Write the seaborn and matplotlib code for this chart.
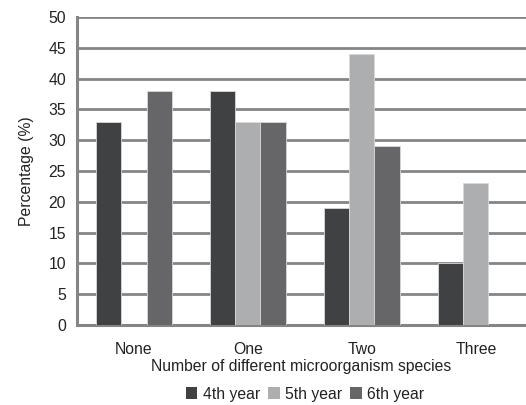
import matplotlib
matplotlib.use("Agg")
import matplotlib.pyplot as plt
import seaborn as sns
import pandas as pd
import numpy as np

categories = ["None", "One", "Two", "Three"]
series_names = ["4th year", "5th year", "6th year"]
vals_4th = [33, 38, 19, 10]
vals_5th = [0, 33, 44, 23]
vals_6th = [38, 33, 29, 0]
colors = ["#404143", "#adaeb0", "#666668"]
y_ticks = [0, 5, 10, 15, 20, 25, 30, 35, 40, 45, 50]

rows = []
for name, vals in zip(series_names, [vals_4th, vals_5th, vals_6th]):
    for c, v in zip(categories, vals):
        rows.append({"cat": c, "series": name, "value": v})
df = pd.DataFrame(rows)

sns.set_theme(style="white")
plt.rcParams['font.family'] = ['Liberation Sans', 'DejaVu Sans']

FS = 11.3
txt = "#222222"
fig = plt.figure(figsize=(5.26, 4.05), dpi=100)
ax = fig.add_axes([0.1464, 0.1975, 0.8536, 0.7605])

grid_c = "#858587"
sns.barplot(data=df, x="cat", y="value", hue="series", order=categories,
            hue_order=series_names, palette=colors, width=0.66,
            linewidth=0.6, edgecolor="#d8d8d8", saturation=1, ax=ax,
            legend=True, zorder=3)

# hide edges of zero-height bars
for p in ax.patches:
    if p.get_height() == 0:
        p.set_linewidth(0)

ax.set_ylim(0, 50)
ax.set_xlim(-0.5, 3.44)
ax.set_yticks(y_ticks)
ax.set_yticklabels([str(t) for t in y_ticks], fontsize=FS, color=txt)
ax.tick_params(axis="x", labelsize=FS, colors=txt, length=0, pad=12)
ax.tick_params(axis="y", length=6, width=2.0, color=grid_c, pad=2, labelcolor=txt)
ax.yaxis.grid(True, color=grid_c, linewidth=2.0, zorder=0)
ax.set_axisbelow(True)
for s in ["top", "right"]:
    ax.spines[s].set_visible(False)
for s in ["left", "bottom"]:
    ax.spines[s].set_color(grid_c)
    ax.spines[s].set_linewidth(2.2)
ax.set_xlabel("Number of different microorganism species", fontsize=FS,
              color=txt, labelpad=2)
ax.set_ylabel("Percentage (%)", fontsize=FS, color=txt, labelpad=10)

handles, labels = ax.get_legend_handles_labels()
ax.get_legend().remove()
fig.legend(handles, labels, loc="center", bbox_to_anchor=(0.58, 0.027), ncol=3,
           frameon=False, fontsize=FS, handlelength=0.75, handleheight=0.75,
           handletextpad=0.35, columnspacing=0.5, labelcolor=txt)

fig.savefig("out.png", dpi=100)
